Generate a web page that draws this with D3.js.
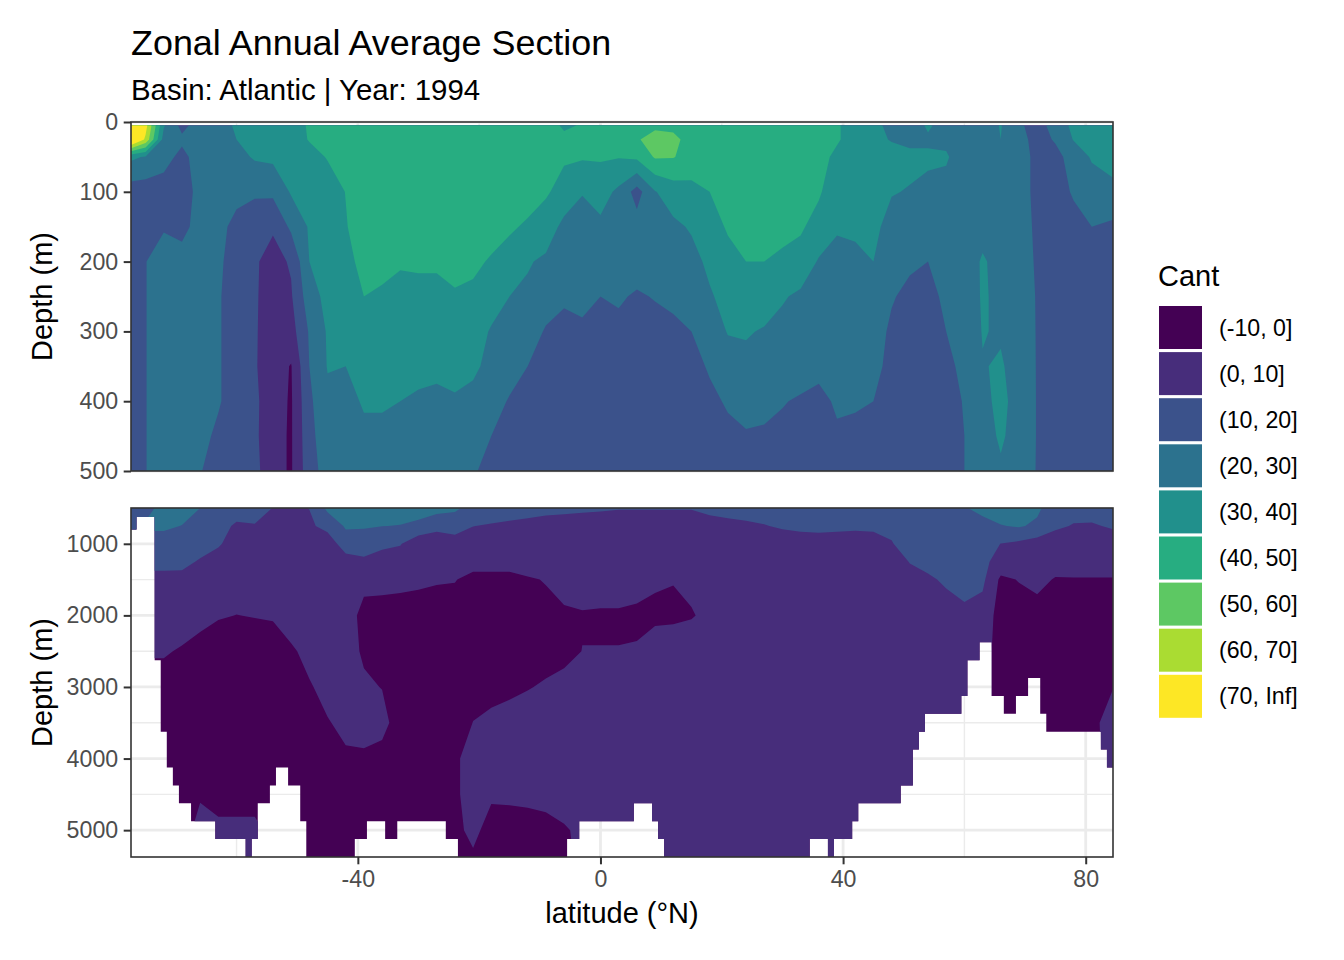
<!DOCTYPE html>
<html>
<head>
<meta charset="utf-8">
<script src="https://cdn.jsdelivr.net/npm/d3@7"></script>
<style>
  body { margin: 0; background: #fff; }
  text { font-family: "Liberation Sans", Arial, Helvetica, sans-serif; }
</style>
</head>
<body>
<svg id="chart" width="1344" height="960"></svg>
<script>
// grid nodes of the section (latitude, depth)
const latNodes = [-77.4, -75, -72, -69, -66, -63, -60, -57, -54, -51, -48, -45, -42, -39, -36, -33, -30, -27, -24, -21,
  -18, -15, -12, -9, -6, -3, 0, 3, 6, 9, 12, 15, 18, 21, 24, 27, 30, 33, 36, 39, 42, 45, 48, 51, 54, 57, 60, 63, 66,
  69, 72, 75, 78, 81, 84.5]
const depthTop = [5, 25, 50, 100, 150, 200, 250, 300, 350, 400, 450, 500]
const depthBottom = [500, 750, 1000, 1250, 1500, 2000, 2500, 3000, 3500, 4000, 4500, 5000, 5375]

// Cant values, one column per latitude node, read top to bottom
const cantTop = [
  [90, 88, 32, 15, 13, 13, 13, 13, 13, 13, 13, 13],
  [74, 68, 29, 15, 19.7, 19.7, 19.7, 19.7, 19.7, 19.7, 19.7, 19.7],
  [31, 26, 24, 15, 19, 25, 25, 25, 25, 25, 25, 25],
  [17, 22, 17, 14, 17, 24, 26, 26, 26, 26, 26, 26],
  [25, 25, 25, 24, 24, 25, 25, 25, 25, 24, 23, 20.5],
  [27, 27, 27, 25, 23, 22, 21, 21, 21, 21, 18, 16],
  [31, 30, 27, 23, 17, 15, 15, 15, 15, 15, 15, 14],
  [35, 34, 31, 22, 12, 11, 11, 11, 11, 12, 12, 13],
  [35, 34, 32, 22, 11, 7, 6, 5, 4, 4, 3, 3],
  [36, 36, 35, 31, 22, 11, 9, 6, -0.5, -1, -1, -1],
  [41, 40.5, 37, 32, 31, 30, 25.5, 21, 20, 18, 17, 16],
  [44, 43, 40.5, 36, 35, 34, 33, 31, 30.5, 28, 26, 24],
  [46, 45, 41, 40.2, 39.5, 38, 36, 34, 30, 27, 26, 25],
  [47, 47, 46, 45, 44, 42, 40, 36, 33, 31, 28, 26],
  [47, 47, 47, 46, 46, 44, 38, 36, 35, 31, 28, 26],
  [48, 48, 48, 47, 47, 41, 37, 36, 35, 30, 27, 26],
  [48, 48, 48, 47, 47, 41, 38, 36, 34, 28, 27, 26],
  [48, 48, 48, 47, 47, 41, 38, 35, 32, 28, 27, 26],
  [48, 48, 48, 47, 46, 43, 39, 36, 33, 29, 27, 22],
  [48, 48, 48, 47, 46, 42, 38, 35, 32, 27, 24, 21],
  [48, 48, 47, 46, 44, 39, 35, 29, 27, 25, 20, 17],
  [47, 47, 46, 44, 41, 37, 30, 27, 25, 19, 16, 14],
  [47, 46, 45, 43, 39, 31, 28, 25, 20, 17, 15, 14],
  [46, 45, 44, 41, 36, 28, 25, 19, 16, 15, 14, 14],
  [38, 43, 41, 37, 27, 25, 21, 18, 16, 15, 14, 14],
  [41, 44, 41, 30.5, 26, 25, 23, 18, 16, 15, 15, 14],
  [45, 44, 41, 34, 28, 26, 20, 17, 16, 15, 15, 14],
  [46, 45, 40.5, 28, 26, 25, 21, 18, 16, 15, 14, 14],
  [48, 49, 42, 16, 24, 24, 19, 16, 15, 14, 14, 14],
  [48, 54, 51, 29.5, 26, 24, 20.5, 17, 15, 14, 14, 14],
  [48, 52, 50.5, 35, 28, 25, 22, 18, 15, 14, 14, 14],
  [47, 47, 46, 37, 31, 27, 24, 20, 17, 15, 14, 14],
  [47, 47, 46, 40, 36, 32, 29, 25, 21, 18, 16, 15],
  [48, 48, 47, 46, 41, 37, 33, 30.5, 26, 21, 18, 16],
  [48, 48, 48, 47, 46, 40, 36, 31, 27, 24, 19, 17],
  [48, 48, 47, 47, 46, 40, 36, 29, 26, 24, 18, 16],
  [48, 47, 46, 45, 43, 38, 31, 27, 25, 20.5, 18, 16],
  [45, 45, 44, 43, 41, 37, 28, 26, 24, 19, 17, 15],
  [44, 44, 43, 41, 37, 29, 27, 25, 22, 18, 17, 15],
  [41, 41, 38, 35, 31, 27, 25, 23, 21, 21, 19, 17],
  [36, 36, 35, 34, 31.5, 28, 26, 25, 23, 21, 18, 17],
  [33, 32, 33, 32, 32, 30, 27, 25, 24, 20, 17, 16],
  [27, 29.5, 33, 30.5, 27, 26, 21, 18, 16, 15, 14, 14],
  [26, 28, 32, 29.5, 26, 22, 17, 15, 14, 14, 14, 14],
  [31, 29, 31, 28.5, 25, 20, 17, 16, 15, 14, 14, 14],
  [27, 28, 31, 27, 25, 23, 22, 20, 18, 17, 16, 16],
  [26, 26, 25, 25, 25, 25, 24, 23, 22, 20.5, 20, 20],
  [26, 26, 25, 25, 27, 31, 31, 30.5, 29.5, 28, 27, 26],
  [30.5, 30, 27, 26, 26, 27, 28, 29, 31, 32, 31, 29],
  [22, 24, 25, 25, 25, 24, 24, 25, 26, 27, 27, 25],
  [15, 16, 17, 17, 18, 19, 19.5, 19.5, 19.5, 19.5, 19.5, 19.5],
  [25, 21, 17, 16, 15, 14, 14, 14, 14, 14, 14, 14],
  [32, 30.5, 24, 21, 17, 15, 14, 14, 14, 14, 14, 14],
  [34, 34, 31, 25, 20, 17, 15, 14, 14, 14, 14, 14],
  [35, 34, 33, 28, 18, 16, 14, 14, 14, 14, 14, 14]
]
const cantBottom = [
  [15, 14, 13, 12, 8, 5, 1, -4, -4, -4, -4, -4, -4],
  [15, 22, 15, 12, 8, 5, 1, -4, -4, -4, -4, -4, -4],
  [25, 22, 15, 12, 8, 5, 1, -4, -4, -4, -4, -4, -4],
  [25, 19.7, 15, 11.8, 8, 5.2, -1, -4, -4, -4, -4, -4, -4],
  [20, 16, 13, 9.3, 7, 2.6, -3, -4, -4, -4, -1, 3.3, 3.3],
  [17, 15, 11, 6.2, 5, 0.6, -4, -5, -5, -4, -3, 1.8, 1.8],
  [17, 7.9, 6, 5, 4, -0.1, -4, -5, -5, -5, -3, 1.8, 1.8],
  [14, 9.45, 7, 5, 4, 0.3, -4, -5, -5, -5, -3, 1.8, 1.8],
  [9.8, 7, 6, 5, 4, 0.6, -3, -4, -4, -4, -3, -2, -2],
  [8, 7, 6, 5, 4, 3.5, -1, -3, -4, -4, -4, -4, -4],
  [10.2, 8, 6, 5, 4, 3, 2, -0.6, -3, -4, -4, -4, -4],
  [22, 13.7, 3.4, 3, 3, 3, 2.5, 2, -0.4, -3, -4, -4, -4],
  [24, 21, 16, 4.9, 4, 3.5, 3, 2.5, 1.5, -0.9, -4, -4, -4],
  [24, 21, 14.7, 8.2, 2, -2.2, -1, 1.1, 1.5, -0.6, -4, -4, -4],
  [25, 20.2, 12, 6.1, 2, -2.6, -2, -0.2, 2.3, -2.5, -4, -4, -4],
  [26, 19.6, 10.5, 6, 2, -3.3, -4, -4, -3.5, -4, -4, -4, -4],
  [27, 16.4, 4.5, 3, 1.2, -3, -4, -4, -4, -4, -4, -4, -4],
  [24, 12, 6, 4, 0.5, -2.8, -4, -4, -4, -4, -4, -4, -4],
  [22, 12.9, 7, 4, 0.3, -3, -4, -4, -3, -2, -2, -2, -2],
  [16, 10.1, 7, 2.5, -2, -3, -3, -2, 0.1, 5, 5, 2, -1],
  [14, 9.4, 7, 2.5, -2, -3, -3, -1.5, 1.1, 3, 1.1, -3, -3],
  [13, 8.8, 6, 2.5, -2, -3, -3, -1, 1.8, 4, 1.3, -3, -3],
  [12, 8.5, 7, 5, -1, -3, -3, -0.3, 2.7, 4, 1.8, -3, -3],
  [11.5, 7.9, 6, 3, 0.5, -2.6, -2, 0.63, 3, 4, 2, -2, -3],
  [11, 8.1, 6.5, 5.5, 4.9, -2, -2, 2.2, 4, 5, 4.6, -1, -2],
  [10.5, 8.6, 6, 4.5, 3, -0.5, 0.1, 3, 4, 5, 5, 2, 2],
  [10.4, 8.4, 6, 4, 2, -0.5, 0.1, 3, 4, 5, 5, 3, 3],
  [10.2, 8, 6, 4, 2, -0.5, 0.1, 3, 4, 5, 5, 4, 4],
  [10.2, 8, 6, 3.5, 1, -0.5, 0.2, 3, 4, 5, 5, 4, 4],
  [10.2, 8, 6, 3, 0.3, -0.5, 1.2, 3, 4, 5, 5, 4, 4],
  [10.2, 8, 6, 3, 0.2, -1, 3, 3.5, 4, 5, 5, 4, 4],
  [10.2, 8, 6, 3, 1, -0.3, 2.5, 3.5, 4, 5, 5, 4, 4],
  [11, 8.5, 6, 4, 2, 1, 3, 4, 4, 5, 5, 4, 4],
  [12, 8.5, 6, 5, 5, 5, 5, 5, 5, 5, 5, 5, 5],
  [13, 8.8, 6, 5, 5, 5, 5, 5, 5, 5, 5, 5, 5],
  [14, 9.6, 6, 5, 5, 5, 5, 5, 5, 5, 5, 5, 5],
  [15, 11, 5.5, 5, 5, 5, 5, 5, 5, 5, 5, 5, 5],
  [15, 11.5, 7, 5, 5, 5, 5, 5, 5, 5, 5, 5, 5],
  [15, 11.7, 7.2, 5, 5, 5, 5, 5, 5, 5, 5, 5, 5],
  [15, 11.5, 7, 5, 5, 5, 5, 5, 5, 5, 5, 5, 5],
  [15, 11.3, 6.5, 5, 5, 5, 5, 5, 5, 5, 5, 5, 5],
  [15, 11.5, 7, 5, 5, 5, 5, 5, 5, 5, 5, 5, 5],
  [15, 12, 9.5, 6, 5, 5, 5, 5, 5, 5, 5, 5, 5],
  [16, 15, 14, 10.3, 7.3, 5, 5, 5, 5, 5, 5, 5, 5],
  [16, 15.5, 15, 12, 9, 5, 5, 5, 5, 5, 5, 5, 5],
  [17, 16.5, 16, 14, 11, 7, 5, 5, 5, 5, 5, 5, 5],
  [19, 17, 16, 15, 13, 8.2, 5, 5, 5, 5, 5, 5, 5],
  [24, 15.3, 13, 12.5, 12, 6, 4, 4, 4, 4, 4, 4, 4],
  [26, 19.5, 9.9, 6, -1.8, -4, -4, -4, -4, -4, -4, -4, -4],
  [26, 21, 8, 5, 0.4, -4, -4, -4, -4, -4, -4, -4, -4],
  [22, 18.1, 5.6, 3.5, 2, -2.9, -4, -4, -4, -4, -4, -4, -4],
  [14, 12, 3.7, 3, -0.5, -4, -4, -4, -4, -4, -4, -4, -4],
  [14, 9.3, 6, 3, -0.4, -4, -4, -4, -4, -4, -4, -4, -4],
  [14, 9.1, 6, 3, -0.4, -4, -4, -4, -1.76, -3, -3, -3, -3],
  [15, 11, 5.5, 3, -0.4, -4, -4, -0.2, 3, 4, 4, 4, 4]
]

// sea floor: first 1-degree cell of each run and its bottom depth (m)
const floorLat = [-77, -76, -73, -72, -71, -70, -69, -67, -63, -58, -57, -56, -54, -53, -51, -49, -48, -40, -38, -35,
  -33, -25, -23, -5, -3, 6, 9, 10, 11, 35, 38, 39, 42, 43, 50, 52, 53, 54, 60, 61, 63, 65, 67, 69, 71, 73, 74, 83, 84]
const floorDepth = [800, 625, 2625, 3625, 4125, 4375, 4625, 4875, 5125, 5375, 5125, 4625, 4375, 4125, 4375, 4875, 5375,
  5125, 4875, 5125, 4875, 5125, 5375, 5125, 4875, 4625, 4875, 5125, 5375, 5125, 5375, 5125, 4875, 4625, 4375, 3875,
  3625, 3375, 3125, 2625, 2375, 3125, 3375, 3125, 2875, 3375, 3625, 3875, 4125]

const bandBreaks = [-10, 0, 10, 20, 30, 40, 50, 60, 70]
const bandLabels = ['(-10, 0]', '(0, 10]', '(10, 20]', '(20, 30]', '(30, 40]', '(40, 50]', '(50, 60]', '(60, 70]', '(70, Inf]']
const bandColors = ['#440154', '#472D7B', '#3B528B', '#2C728E', '#21908C', '#27AD81', '#5DC863', '#AADC32', '#FDE725']

const latTicks = [-40, 0, 40, 80]
const latMinor = [-60, -20, 20, 60]
const topTicks = [0, 100, 200, 300, 400, 500]
const topMinor = [50, 150, 250, 350, 450]
const bottomTicks = [1000, 2000, 3000, 4000, 5000]
const bottomMinor = [500, 1500, 2500, 3500, 4500]

const svg = d3.select('#chart')
const x = d3.scaleLinear().domain([-77.4, 84.5]).range([131, 1113])
const yTop = d3.scaleLinear().domain([0, 500]).range([122, 471])
const yBot = d3.scaleLinear().domain([500, 5375]).range([508, 857])

svg.append('rect').attr('width', 1344).attr('height', 960).attr('fill', '#fff')

function drawGrid(y, major, minor) {
    let g = svg.append('g')
    let [y0, y1] = y.range()
    g.selectAll('.vmin').data(latMinor).join('line')
        .attr('x1', d => x(d)).attr('x2', d => x(d)).attr('y1', y0).attr('y2', y1)
        .attr('stroke', '#EBEBEB').attr('stroke-width', 1.4)
    g.selectAll('.hmin').data(minor).join('line')
        .attr('x1', 131).attr('x2', 1113).attr('y1', d => y(d)).attr('y2', d => y(d))
        .attr('stroke', '#EBEBEB').attr('stroke-width', 1.4)
    g.selectAll('.vmaj').data(latTicks).join('line')
        .attr('x1', d => x(d)).attr('x2', d => x(d)).attr('y1', y0).attr('y2', y1)
        .attr('stroke', '#EBEBEB').attr('stroke-width', 2.8)
    g.selectAll('.hmaj').data(major).join('line')
        .attr('x1', 131).attr('x2', 1113).attr('y1', d => y(d)).attr('y2', d => y(d))
        .attr('stroke', '#EBEBEB').attr('stroke-width', 2.8)
}

function drawField(cols, depths, y, clip) {
    //grid values in row order for d3.contours
    const n = latNodes.length, m = depths.length
    const values = new Array(n * m)
    cols.forEach((col, i) => col.forEach((v, j) => { values[j * n + i] = v }))
    const gx = d3.scaleLinear().domain(latNodes.map((d, i) => i + 0.5)).range(latNodes).clamp(true)
    const gy = d3.scaleLinear().domain(depths.map((d, j) => j + 0.5)).range(depths).clamp(true)
    const proj = d3.geoTransform({
        point: function (px, py) { this.stream.point(x(gx(px)), y(gy(py))) }
    })
    const path = d3.geoPath(proj)
    const bands = d3.contours().size([n, m]).thresholds(bandBreaks)(values)
    let g = svg.append('g')
    if (clip) g.attr('clip-path', `url(#${clip})`)
    g.selectAll('path').data(bands).join('path')
        .attr('d', path)
        .attr('fill', d => bandColors[bandBreaks.indexOf(d.value)])
}

// ocean mask of the deep panel
const floorPts = floorLat.map((l, k) => ({ lat: k === 0 ? -77.5 : l - 0.5, depth: floorDepth[k] }))
floorPts.push({ lat: 84.5, depth: floorDepth[floorDepth.length - 1] })
const oceanArea = d3.area().x(d => x(d.lat)).y0(yBot(500)).y1(d => yBot(d.depth)).curve(d3.curveStepAfter)
svg.append('defs').append('clipPath').attr('id', 'ocean').append('path').attr('d', oceanArea(floorPts))

drawGrid(yTop, topTicks, topMinor)
drawGrid(yBot, bottomTicks, bottomMinor)
drawField(cantTop, depthTop, yTop, null)
drawField(cantBottom, depthBottom, yBot, 'ocean')

// panel borders
;[yTop, yBot].forEach(y => {
    svg.append('rect').attr('x', 131).attr('y', y.range()[0])
        .attr('width', 982).attr('height', y.range()[1] - y.range()[0])
        .attr('fill', 'none').attr('stroke', '#333333').attr('stroke-width', 1.6)
})

function styleAxis(g) {
    g.select('.domain').remove()
    g.selectAll('.tick line').attr('stroke', '#333333').attr('stroke-width', 2)
    g.selectAll('.tick text').attr('fill', '#4D4D4D').style('font-size', '23.2px')
        .style('font-family', '"Liberation Sans", Arial, sans-serif')
}
const plain = d => String(d)
svg.append('g').attr('transform', 'translate(131,0)')
    .call(d3.axisLeft(yTop).tickValues(topTicks).tickFormat(plain).tickSize(7.3).tickPadding(5.5)).call(styleAxis)
svg.append('g').attr('transform', 'translate(131,0)')
    .call(d3.axisLeft(yBot).tickValues(bottomTicks).tickFormat(plain).tickSize(7.3).tickPadding(5.5)).call(styleAxis)
svg.append('g').attr('transform', 'translate(0,857)')
    .call(d3.axisBottom(x).tickValues(latTicks).tickFormat(plain).tickSize(7.3).tickPadding(6)).call(styleAxis)

// titles
svg.append('text').attr('x', 131).attr('y', 55).style('font-size', '35.9px').text('Zonal Annual Average Section')
svg.append('text').attr('x', 131).attr('y', 99.5).style('font-size', '29.4px').text('Basin: Atlantic | Year: 1994')
svg.append('text').attr('x', 622).attr('y', 923).attr('text-anchor', 'middle').style('font-size', '29px').text('latitude (°N)')
;[yTop, yBot].forEach(y => {
    let cy = (y.range()[0] + y.range()[1]) / 2
    svg.append('text').attr('transform', `translate(52,${cy}) rotate(-90)`).attr('text-anchor', 'middle')
        .style('font-size', '29px').text('Depth (m)')
})

// legend
const legend = svg.append('g').attr('transform', 'translate(1159,306)')
legend.append('text').attr('x', -1).attr('y', -20).style('font-size', '29px').text('Cant')
legend.selectAll('rect').data(bandLabels).join('rect')
    .attr('x', 0).attr('y', (d, i) => i * 46.1).attr('width', 43).attr('height', 43)
    .attr('fill', (d, i) => bandColors[i])
legend.selectAll('.lab').data(bandLabels).join('text')
    .attr('class', 'lab').attr('x', 60).attr('y', (d, i) => i * 46.1 + 21.5)
    .attr('dominant-baseline', 'central').style('font-size', '23.2px').text(d => d)
</script>
</body>
</html>
